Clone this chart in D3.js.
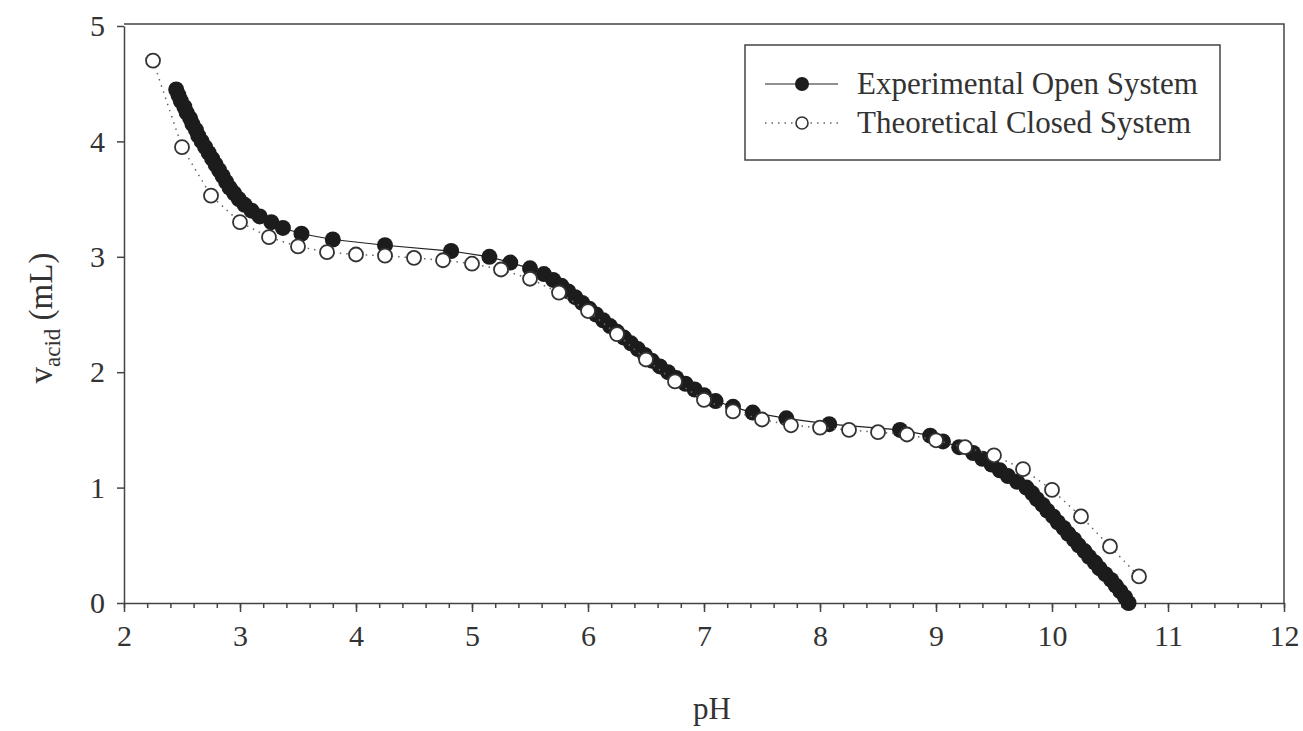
<!DOCTYPE html>
<html>
<head>
<meta charset="UTF-8">
<style>
body { margin: 0; background: #fff; }
svg text { font-family: "Liberation Serif", "DejaVu Serif", serif; fill: #333; }
.axis path, .axis line { stroke: #444; stroke-width: 1.5px; }
.axis text { font-size: 30px; fill: #333; }
</style>
</head>
<body>
<svg width="1303" height="731"></svg>
<script src="https://cdn.jsdelivr.net/npm/d3@7/dist/d3.min.js"></script>
<script>
// experimental open system: acid volume (mL) and measured pH
var expVol = [4.45, 4.40, 4.35, 4.30, 4.25, 4.20, 4.15, 4.10, 4.05, 4.00,
  3.95, 3.90, 3.85, 3.80, 3.75, 3.70, 3.65, 3.60, 3.55, 3.50,
  3.45, 3.40, 3.35, 3.30, 3.25, 3.20, 3.15, 3.10, 3.05, 3.00,
  2.95, 2.90, 2.85, 2.80, 2.75, 2.70, 2.65, 2.60, 2.55, 2.50,
  2.45, 2.40, 2.35, 2.30, 2.25, 2.20, 2.15, 2.10, 2.05, 2.00,
  1.95, 1.90, 1.85, 1.80, 1.75, 1.70, 1.65, 1.60, 1.55, 1.50,
  1.45, 1.40, 1.35, 1.30, 1.25, 1.20, 1.15, 1.10, 1.05, 1.00,
  0.95, 0.90, 0.85, 0.80, 0.75, 0.70, 0.65, 0.60, 0.55, 0.50,
  0.45, 0.40, 0.35, 0.30, 0.25, 0.20, 0.15, 0.10, 0.05, 0.00];
var expPH = [2.45, 2.47, 2.49, 2.52, 2.54, 2.57, 2.59, 2.62, 2.64, 2.67,
  2.70, 2.73, 2.76, 2.79, 2.82, 2.85, 2.88, 2.91, 2.95, 2.99,
  3.04, 3.10, 3.17, 3.27, 3.37, 3.53, 3.80, 4.25, 4.82, 5.15,
  5.33, 5.50, 5.62, 5.70, 5.77, 5.83, 5.89, 5.95, 6.01, 6.07,
  6.13, 6.19, 6.25, 6.31, 6.37, 6.43, 6.49, 6.55, 6.62, 6.69,
  6.76, 6.84, 6.92, 7.00, 7.10, 7.25, 7.42, 7.71, 8.08, 8.69,
  8.95, 9.06, 9.20, 9.32, 9.40, 9.48, 9.55, 9.62, 9.70, 9.78,
  9.83, 9.87, 9.92, 9.96, 10.01, 10.05, 10.10, 10.14, 10.19, 10.23,
  10.28, 10.32, 10.37, 10.41, 10.46, 10.51, 10.55, 10.59, 10.63, 10.66];

// theoretical closed system
var thPH = [2.25, 2.50, 2.75, 3.00, 3.25, 3.50, 3.75, 4.00, 4.25, 4.50,
  4.75, 5.00, 5.25, 5.50, 5.75, 6.00, 6.25, 6.50, 6.75, 7.00,
  7.25, 7.50, 7.75, 8.00, 8.25, 8.50, 8.75, 9.00, 9.25, 9.50,
  9.75, 10.00, 10.25, 10.50, 10.75];
var thVol = [4.70, 3.95, 3.53, 3.30, 3.17, 3.09, 3.04, 3.02, 3.01, 2.99,
  2.97, 2.94, 2.89, 2.81, 2.69, 2.53, 2.33, 2.11, 1.92, 1.76,
  1.66, 1.59, 1.54, 1.52, 1.50, 1.48, 1.46, 1.41, 1.35, 1.28,
  1.16, 0.98, 0.75, 0.49, 0.23];

var xTicks = [2, 3, 4, 5, 6, 7, 8, 9, 10, 11, 12];
var yTicks = [0, 1, 2, 3, 4, 5];
var seriesNames = ["Experimental Open System", "Theoretical Closed System"];

var svg = d3.select("svg"),
    margin = {top: 26, right: 19, bottom: 128, left: 124},
    width = 1303 - margin.left - margin.right,
    height = 731 - margin.top - margin.bottom,
    g = svg.append("g").attr("transform", "translate(" + margin.left + "," + margin.top + ")");

var x = d3.scaleLinear().domain([2, 12]).range([0, width]),
    y = d3.scaleLinear().domain([0, 5]).range([height, 0]);

var expData = expVol.map(function(v, i) { return {ph: expPH[i], v: v}; });
var thData = thPH.map(function(p, i) { return {ph: p, v: thVol[i]}; });

var line = d3.line()
    .x(function(d) { return x(d.ph); })
    .y(function(d) { return y(d.v); });

// frame: top and right edges
g.append("path")
    .attr("d", "M0,-2H" + width + "V" + height)
    .attr("fill", "none")
    .attr("stroke", "#444")
    .attr("stroke-width", 1.5);

// minor x ticks
g.append("g")
    .attr("class", "axis")
    .attr("transform", "translate(0," + height + ")")
    .call(d3.axisBottom(x).tickValues(d3.range(2, 12.01, 0.2)).tickSize(5).tickFormat(""))
    .select(".domain").remove();

g.append("g")
    .attr("class", "axis")
    .attr("transform", "translate(0," + height + ")")
    .call(d3.axisBottom(x).tickValues(xTicks).tickSize(9).tickSizeOuter(0).tickPadding(13).tickFormat(d3.format("d")));

g.append("g")
    .attr("class", "axis")
    .call(d3.axisLeft(y).tickValues(yTicks).tickSize(7).tickSizeOuter(0).tickPadding(12).tickFormat(d3.format("d")));

// experimental series
g.append("path")
    .datum(expData)
    .attr("fill", "none")
    .attr("stroke", "#222")
    .attr("stroke-width", 1.2)
    .attr("d", line);

g.selectAll(".exp")
    .data(expData)
  .enter().append("circle")
    .attr("class", "exp")
    .attr("cx", function(d) { return x(d.ph); })
    .attr("cy", function(d) { return y(d.v); })
    .attr("r", 8)
    .attr("fill", "#1c1c1c");

// theoretical series
g.append("path")
    .datum(thData)
    .attr("fill", "none")
    .attr("stroke", "#666")
    .attr("stroke-width", 1.5)
    .attr("stroke-dasharray", "1.5,5")
    .attr("d", line);

g.selectAll(".th")
    .data(thData)
  .enter().append("circle")
    .attr("class", "th")
    .attr("cx", function(d) { return x(d.ph); })
    .attr("cy", function(d) { return y(d.v); })
    .attr("r", 7)
    .attr("fill", "#fff")
    .attr("stroke", "#333")
    .attr("stroke-width", 1.8);

// axis titles
svg.append("text")
    .attr("x", 712)
    .attr("y", 719)
    .attr("text-anchor", "middle")
    .style("font-size", "31px")
    .text("pH");

var yt = svg.append("text")
    .attr("transform", "translate(52,318) rotate(-90)")
    .attr("text-anchor", "middle")
    .style("font-size", "33px");
yt.append("tspan").text("v");
yt.append("tspan").attr("dy", 8).style("font-size", "23px").text("acid");
yt.append("tspan").attr("dy", -8).text(" (mL)");

// legend
var lg = svg.append("g").attr("transform", "translate(745,45)");
lg.append("rect")
    .attr("width", 475)
    .attr("height", 115)
    .attr("fill", "#fff")
    .attr("stroke", "#444")
    .attr("stroke-width", 1.5);

var rows = lg.selectAll(".row")
    .data(seriesNames)
  .enter().append("g")
    .attr("transform", function(d, i) { return "translate(0," + (39 + i * 39) + ")"; });

rows.append("line")
    .attr("x1", 20).attr("x2", 93)
    .attr("stroke", function(d, i) { return i ? "#666" : "#222"; })
    .attr("stroke-width", function(d, i) { return i ? 1.5 : 1.2; })
    .attr("stroke-dasharray", function(d, i) { return i ? "1.5,5" : null; });

rows.append("circle")
    .attr("cx", 57)
    .attr("r", function(d, i) { return i ? 6 : 7; })
    .attr("fill", function(d, i) { return i ? "#fff" : "#1c1c1c"; })
    .attr("stroke", function(d, i) { return i ? "#333" : null; })
    .attr("stroke-width", 1.6);

rows.append("text")
    .attr("x", 112)
    .attr("dy", "0.33em")
    .style("font-size", "31px")
    .text(function(d) { return d; });
</script>
</body>
</html>
